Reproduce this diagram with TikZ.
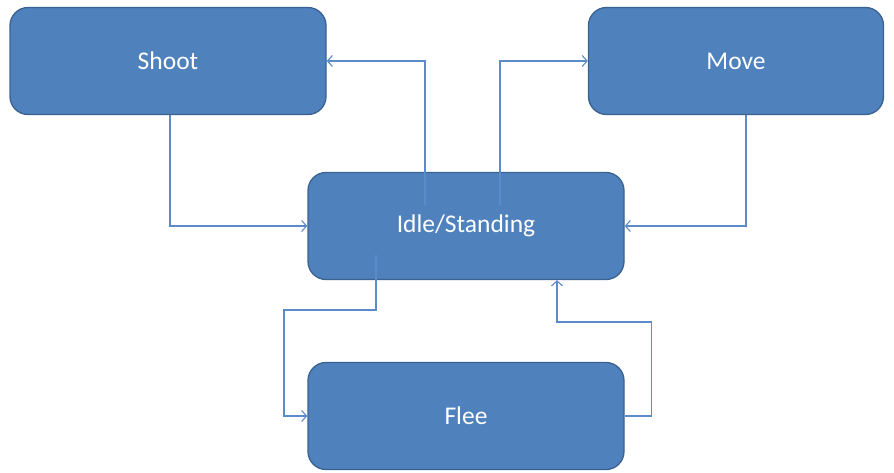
\documentclass[tikz,border=0pt]{standalone}
\usepackage{fontspec}
\setmainfont{Carlito}
\usetikzlibrary{arrows.meta}
\definecolor{boxfill}{HTML}{4F81BD}
\definecolor{boxedge}{HTML}{3A6290}
\definecolor{linkcol}{HTML}{5B8BC9}
\begin{document}
\begin{tikzpicture}[x=1pt,y=-1pt,
  state/.style={draw=boxedge, line width=1.3pt, fill=boxfill, rounded corners=18pt,
    minimum width=316pt, minimum height=107pt, text=white, font=\fontsize{25.5}{30}\selectfont},
  conn/.style={draw=linkcol, line width=1.1pt, -{Straight Barb[length=5pt,width=11pt]}}]
  \useasboundingbox (0,0) rectangle (894,472);
  \node[state] (shoot) at (168,61) {Shoot};
  \node[state, minimum width=295pt] (move) at (736,61) {Move};
  \node[state] (idle) at (466,226) {Idle/Standing};
  \node[state] (flee) at (466,416) {Flee};
  % transitions
  \draw[conn] ([xshift=2pt]shoot.south) |- (idle.west);
  \draw[conn] ([shift={(-41,-21)}]idle.center) |- (shoot.east);
  \draw[conn] ([shift={(34,-21)}]idle.center) |- (move.west);
  \draw[conn] ([xshift=10pt]move.south) |- (idle.east);
  \draw[conn] ([shift={(-90,29)}]idle.center) -- ++(0,55) -- ++(-92,0) |- (flee.west);
  \draw[conn] (flee.east) -- ++(27,0) -- ++(0,-94) -| ([xshift=91pt]idle.south);
\end{tikzpicture}
\end{document}
